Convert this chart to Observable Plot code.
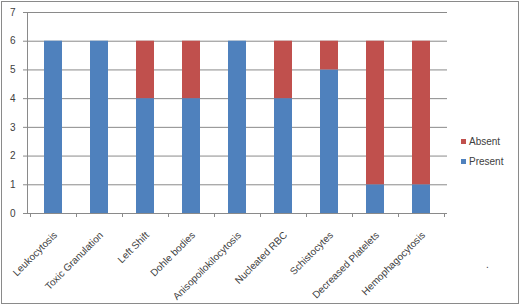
<!DOCTYPE html>
<html>
<head>
<meta charset="utf-8">
<script src="https://cdn.jsdelivr.net/npm/d3@7"></script>
<script src="https://cdn.jsdelivr.net/npm/@observablehq/plot@0.6"></script>
<style>
  html, body { margin: 0; padding: 0; background: #fff; }
  #wrap { position: relative; width: 520px; height: 305px; overflow: hidden; font-family: "Liberation Sans", Arial, sans-serif; }
  #frame { position: absolute; left: 1px; top: 1px; width: 516px; height: 301px; border: 1px solid #8a8a8a; pointer-events: none; }
  #chart { position: absolute; left: 0; top: 0; }
  .legend { position: absolute; left: 461px; font-size: 10px; color: #404040; line-height: 12px; white-space: nowrap; }
  .legend span.sw { display: inline-block; width: 5px; height: 5px; margin-right: 3px; vertical-align: 1px; }
  #dot { position: absolute; left: 486px; top: 259px; font-size: 10px; color: #404040; }
</style>
</head>
<body>
<div id="wrap">
  <div id="chart"></div>
  <div id="frame"></div>
  <div id="legend"></div>
  <div id="dot">.</div>
</div>
<script>
const categories = ["Leukocytosis", "Toxic Granulation", "Left Shift", "Dohle bodies", "Anisopoilokilocytosis", "Nucleated RBC", "Schistocytes", "Decreased Platelets", "Hemophagocytosis"];
const present = [6, 6, 4, 4, 6, 4, 5, 1, 1];
const absent  = [0, 0, 2, 2, 0, 2, 1, 5, 5];
const seriesNames = ["Present", "Absent"];
const seriesColors = ["#4f81bd", "#c0504d"];
const yTicks = [0, 1, 2, 3, 4, 5, 6, 7];

const data = [];
categories.forEach((c, i) => {
  data.push({category: c, series: "Present", value: present[i]});
  data.push({category: c, series: "Absent", value: absent[i]});
});

const boundaryTicks = (index, scales, values, dimensions) => {
  const g = d3.create("svg:g");
  const x = scales.x;
  const bw = x.bandwidth ? x.bandwidth() : 0;
  const step = (dimensions.width - dimensions.marginLeft - dimensions.marginRight) / categories.length;
  const y0 = dimensions.height - dimensions.marginBottom;
  const xs = categories.map(c => x(c) + bw / 2 - step / 2);
  xs.push(x(categories[categories.length - 1]) + bw / 2 + step / 2);
  g.append("line").attr("x1", dimensions.marginLeft).attr("x2", dimensions.width - dimensions.marginRight)
    .attr("y1", y0 + 0.5).attr("y2", y0 + 0.5).attr("stroke", "#8a8a8a");
  g.append("line").attr("x1", dimensions.marginLeft + 0.5).attr("x2", dimensions.marginLeft + 0.5)
    .attr("y1", dimensions.marginTop).attr("y2", y0).attr("stroke", "#8a8a8a");
  xs.forEach(px => {
    g.append("line").attr("x1", Math.round(px) + 0.5).attr("x2", Math.round(px) + 0.5)
      .attr("y1", y0).attr("y2", y0 + 4).attr("stroke", "#8a8a8a");
  });
  return g.node();
};

const chart = Plot.plot({
  width: 520,
  height: 305,
  marginLeft: 27,
  marginRight: 73,
  marginTop: 12,
  marginBottom: 92,
  style: {fontFamily: "'Liberation Sans', Arial, sans-serif", fontSize: "10px", color: "#404040", background: "transparent"},
  x: {domain: categories, paddingInner: 0.6, paddingOuter: 0.3, label: null},
  y: {domain: [0, 7], label: null},
  color: {domain: seriesNames, range: seriesColors},
  marks: [
    Plot.gridY(yTicks.slice(1), {stroke: "#8a8a8a", strokeOpacity: 1}),
    Plot.barY(data, {x: "category", y: "value", fill: "series", order: seriesNames}),
    Plot.axisY(yTicks, {tickSize: 4, tickPadding: 8, stroke: "#8a8a8a", tickFormat: d => d, fill: "#404040", fontSize: 10, label: null}),
    Plot.axisX({tickSize: 0, tickRotate: -45, tickPadding: 9, dx: 2, dy: 11, fill: "#404040", fontSize: 10, label: null}),
    boundaryTicks
  ]
});
document.getElementById("chart").appendChild(chart);

const legend = document.getElementById("legend");
[["Absent", seriesColors[1], 136], ["Present", seriesColors[0], 156]].forEach(([name, col, top]) => {
  const d = document.createElement("div");
  d.className = "legend";
  d.style.top = top + "px";
  d.innerHTML = `<span class="sw" style="background:${col}"></span>${name}`;
  legend.appendChild(d);
});
</script>
</body>
</html>
